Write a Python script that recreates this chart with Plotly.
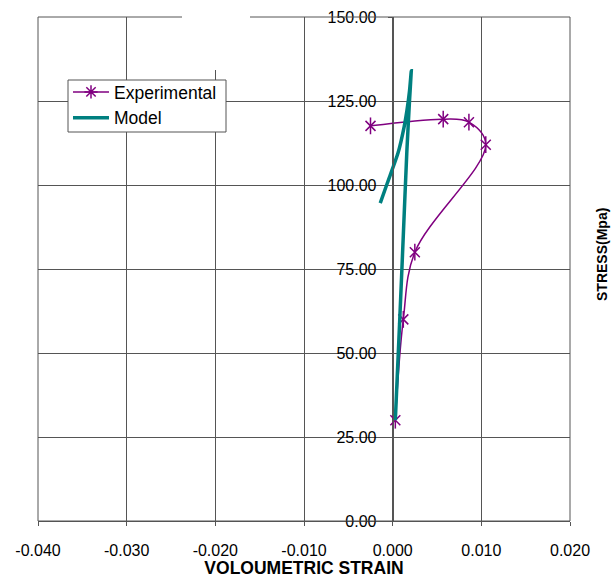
import plotly.graph_objects as go

# Experimental data (volumetric strain, stress MPa)
exp_strain = [0.0003, 0.0012, 0.0025, 0.0105, 0.0086, 0.0057, -0.0025]
exp_stress = [30.0, 60.0, 80.0, 112.0, 118.7, 119.6, 117.6]

# Model curve
model_strain = [0.0003, 0.0008, 0.0012, 0.0016, 0.0019, 0.0021,
                0.0019, 0.0016, 0.0013, 0.0006, -0.0006, -0.0014]
model_stress = [30.0, 60.0, 85.0, 110.0, 125.0, 134.0,
                128.0, 122.0, 117.4, 109.5, 100.6, 94.6]

x_ticks = [-0.04, -0.03, -0.02, -0.01, 0.0, 0.01, 0.02]
x_labels = ["-0.040", "-0.030", "-0.020", "-0.010", "0.000", "0.010", "0.020"]
y_ticks = [0, 25, 50, 75, 100, 125, 150]
y_labels = ["0.00", "25.00", "50.00", "75.00", "100.00", "125.00", "150.00"]

grid = "#555555"
purple = "#800080"
teal = "#008080"
font = "Liberation Sans, Arial, sans-serif"

L, R, T, B = 38, 570, 17, 521  # plot area in pixels
def px(x):
    return (x - L) / (R - L)
def py(y):
    return (B - y) / (B - T)

fig = go.Figure()
# Experimental: line with X markers, plus vertical bar markers -> 6-arm star
fig.add_trace(go.Scatter(
    x=exp_strain, y=exp_stress, mode="lines+markers", name="Experimental",
    showlegend=False, legendgroup="exp",
    line=dict(color=purple, width=1.5, shape="spline", smoothing=1.0),
    marker=dict(symbol="x-thin-open", size=10, color=purple,
                line=dict(color=purple, width=1.5)),
))
fig.add_trace(go.Scatter(
    x=exp_strain, y=exp_stress, mode="markers", name="Experimental",
    showlegend=False, legendgroup="exp",
    marker=dict(symbol="line-ns-open", size=12, color=purple,
                line=dict(color=purple, width=1.5)),
))
# legend entry for Experimental
fig.add_trace(go.Scatter(
    x=[None], y=[None], mode="lines+markers", name="Experimental",
    legendgroup="exp",
    line=dict(color=purple, width=1.5),
    marker=dict(symbol="asterisk-open", size=11, color=purple,
                line=dict(color=purple, width=1.5)),
))
fig.add_trace(go.Scatter(
    x=model_strain, y=model_stress, mode="lines", name="Model",
    line=dict(color=teal, width=3.5, shape="spline", smoothing=0.6),
))

fig.update_layout(
    width=613, height=578,
    margin=dict(l=L, r=613 - R, t=T, b=578 - B),
    paper_bgcolor="white", plot_bgcolor="white",
    font=dict(family=font, size=16, color="black"),
    showlegend=True,
    legend=dict(x=px(68), y=py(74), xanchor="left", yanchor="top",
                bgcolor="rgba(0,0,0,0)", borderwidth=0, itemwidth=36,
                font=dict(size=17.5, family=font), tracegroupgap=0),
    xaxis=dict(range=[-0.04, 0.02], tickvals=x_ticks, ticktext=x_labels,
               automargin=False,
               showgrid=True, gridcolor=grid, gridwidth=1,
               zeroline=False, showline=True, linecolor=grid, linewidth=1,
               ticks="outside", ticklen=4, tickcolor=grid,
               ticklabelstandoff=11,
               tickfont=dict(size=16),
               title=dict(text="<b>VOLOUMETRIC STRAIN</b>", font=dict(size=17.5), standoff=4)),
    yaxis=dict(range=[0, 150], tickvals=y_ticks, ticktext=y_labels,
               automargin=False,
               anchor="free", position=4/6, side="left",
               showgrid=True, gridcolor=grid, gridwidth=1,
               zeroline=False, showline=True, linecolor=grid, linewidth=1,
               ticks="outside", ticklen=5, tickcolor=grid,
               ticklabelstandoff=8,
               tickfont=dict(size=16)),
    shapes=[
        dict(type="rect", xref="paper", yref="paper", x0=0, x1=1, y0=0, y1=1,
             line=dict(color=grid, width=1), layer="above"),
        dict(type="rect", xref="paper", yref="paper",
             x0=px(182), x1=px(250), y0=py(70), y1=1.05,
             fillcolor="white", line=dict(width=0), layer="above"),
        dict(type="rect", xref="paper", yref="paper",
             x0=px(68), x1=px(226), y0=py(132), y1=py(80),
             fillcolor="white", line=dict(color=grid, width=1), layer="above"),
    ],
    annotations=[
        dict(text="<b>STRESS(Mpa)</b>", xref="paper", yref="paper",
             x=px(602), y=py(255), showarrow=False, textangle=-90,
             font=dict(size=14, family=font), xanchor="center", yanchor="middle"),
    ],
)

fig.write_html("out.html")
